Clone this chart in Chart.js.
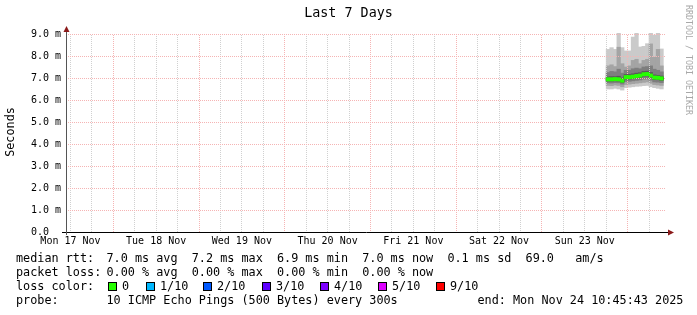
<!DOCTYPE html>
<html>
<head>
<meta charset="utf-8">
<script src="https://cdn.jsdelivr.net/npm/chart.js@4/dist/chart.umd.min.js"></script>
<style>
  html, body { margin: 0; padding: 0; background: #ffffff; }
  canvas { display: block; }
</style>
</head>
<body>
<canvas id="smokeChart" width="697" height="315"></canvas>
<script>
// hour offsets from the window start (Mon 17 Nov 10:45), one smoke column per hour
var hours = [151.75, 152.75, 153.75, 154.75, 155.75, 156.75, 157.75, 158.75, 159.75, 160.75, 161.75, 162.75, 163.75, 164.75, 165.75, 166.75];
// sorted ping rtts per hour (ms), ping1 = fastest, ping10 = slowest
var ping1  = [6.50, 6.50, 6.53, 6.50, 6.45, 6.56, 6.58, 6.60, 6.62, 6.63, 6.65, 6.66, 6.60, 6.56, 6.53, 6.50];
var ping2  = [6.66, 6.65, 6.68, 6.66, 6.60, 6.70, 6.72, 6.74, 6.76, 6.78, 6.80, 6.82, 6.76, 6.70, 6.68, 6.66];
var ping3  = [6.78, 6.77, 6.79, 6.78, 6.72, 6.84, 6.85, 6.87, 6.89, 6.91, 6.95, 6.96, 6.90, 6.82, 6.81, 6.79];
var ping4  = [6.86, 6.86, 6.87, 6.86, 6.80, 6.95, 6.95, 6.97, 7.00, 7.02, 7.08, 7.09, 7.02, 6.93, 6.92, 6.89];
var ping5  = [6.90, 6.90, 6.91, 6.90, 6.84, 7.00, 7.00, 7.02, 7.05, 7.07, 7.13, 7.14, 7.07, 6.98, 6.97, 6.94];
var ping6  = [6.98, 6.98, 6.99, 6.98, 6.92, 7.08, 7.08, 7.10, 7.13, 7.15, 7.21, 7.22, 7.15, 7.06, 7.05, 7.02];
var ping7  = [7.05, 7.06, 7.06, 7.08, 7.00, 7.16, 7.16, 7.19, 7.22, 7.24, 7.30, 7.31, 7.25, 7.14, 7.12, 7.09];
var ping8  = [7.25, 7.30, 7.28, 7.40, 7.22, 7.35, 7.35, 7.42, 7.45, 7.42, 7.50, 7.52, 7.55, 7.40, 7.35, 7.28];
var ping9  = [7.55, 7.60, 7.52, 8.40, 7.65, 7.50, 7.55, 7.80, 7.85, 7.65, 7.80, 7.85, 8.55, 7.95, 8.30, 7.55];
var ping10 = [8.30, 8.38, 8.30, 9.20, 8.38, 8.23, 8.23, 8.86, 9.20, 8.41, 8.44, 8.56, 9.20, 8.95, 9.20, 8.32];
var median = [6.94, 6.94, 6.95, 6.94, 6.88, 7.04, 7.04, 7.06, 7.09, 7.11, 7.17, 7.18, 7.11, 7.02, 7.01, 6.98];

var dayLabels = ['Mon 17 Nov', 'Tue 18 Nov', 'Wed 19 Nov', 'Thu 20 Nov', 'Fri 21 Nov', 'Sat 22 Nov', 'Sun 23 Nov'];
var lossLabels = ['0', '1/10', '2/10', '3/10', '4/10', '5/10', '9/10'];
var lossColors = ['#26ff00', '#00b8ff', '#0059ff', '#5e00ff', '#7e00ff', '#dd00ff', '#ff0000'];
var rttLine = '7.0 ms avg  7.2 ms max  6.9 ms min  7.0 ms now  0.1 ms sd  69.0   am/s';
var lossLine = '0.00 % avg  0.00 % max  0.00 % min  0.00 % now';
var probeLine = '10 ICMP Echo Pings (500 Bytes) every 300s';
var endLine = 'end: Mon Nov 24 10:45:43 2025';

var mono = '"DejaVu Sans Mono", monospace';
var smokeShades = ['#cacaca', '#a4a4a4', '#7e7e7e', '#585858', '#323232'];
var lows = [ping1, ping2, ping3, ping4, ping5];
var highs = [ping10, ping9, ping8, ping7, ping6];
var majorGrid = '#f5b4b4';
var minorGrid = '#d0d0d0';

function band(lo, hi) {
    return hours.map(function (h, i) { return { x: h, y: [lo[i], hi[i]] }; });
}

var datasets = [];
for (var b = 0; b < 5; b++) {
    datasets.push({
        data: band(lows[b], highs[b]),
        backgroundColor: smokeShades[b],
        order: 10 - b
    });
}
datasets.push({
    data: hours.map(function (h, i) { return { x: h, y: [median[i] - 0.075, median[i] + 0.075] }; }),
    backgroundColor: '#26ff00',
    order: 0
});
datasets.forEach(function (d) {
    d.barPercentage = 1;
    d.categoryPercentage = 1;
    d.borderWidth = 0;
    d.grouped = false;
});

function isStep(v, start, step) {
    var k = (v - start) / step;
    return Math.abs(k - Math.round(k)) < 1e-6;
}

// dotted rrdtool-style grid over the smoke, under the median band
var dottedGrid = {
    id: 'dottedGrid',
    afterDatasetDraw: function (chart, args) {
        if (args.index !== 4) return;
        var ctx = chart.ctx, a = chart.chartArea;
        var xs = chart.scales.x, ys = chart.scales.y;
        ctx.save();
        [false, true].forEach(function (major) {
            ctx.fillStyle = major ? majorGrid : minorGrid;
            ys.ticks.forEach(function (t) {
                if (t.value === 0 || isStep(t.value, 0, 1) !== major) return;
                var y = Math.round(ys.getPixelForValue(t.value));
                var x0 = a.left + 1 + ((a.left + 1 + y) % 2);
                for (var x = x0; x < a.right; x += 2) ctx.fillRect(x, y, 1, 1);
            });
            xs.ticks.forEach(function (t) {
                if (isStep(t.value, 13.25, 24) !== major) return;
                var x = Math.floor(xs.getPixelForValue(t.value) + 0.02);
                var y0 = a.bottom - 1 - ((a.bottom - 1 + x) % 2);
                for (var y = y0; y > a.top; y -= 2) ctx.fillRect(x, y, 1, 1);
            });
        });
        ctx.restore();
    }
};

var decorations = {
    id: 'decorations',
    afterDraw: function (chart) {
        var ctx = chart.ctx, a = chart.chartArea;
        ctx.save();
        // axes
        ctx.lineWidth = 1;
        ctx.strokeStyle = '#000000';
        ctx.beginPath();
        ctx.moveTo(a.left - 4, a.bottom + 0.5);
        ctx.lineTo(a.right + 5, a.bottom + 0.5);
        ctx.stroke();
        ctx.strokeStyle = '#555555';
        ctx.beginPath();
        ctx.moveTo(a.left + 0.5, a.bottom + 3);
        ctx.lineTo(a.left + 0.5, a.top - 4);
        ctx.stroke();
        // arrows
        ctx.fillStyle = '#8b1a1a';
        ctx.beginPath();
        ctx.moveTo(a.right + 8, a.bottom + 0.5);
        ctx.lineTo(a.right + 2, a.bottom - 2.5);
        ctx.lineTo(a.right + 2, a.bottom + 3.5);
        ctx.closePath();
        ctx.fill();
        ctx.beginPath();
        ctx.moveTo(a.left + 0.5, a.top - 7);
        ctx.lineTo(a.left - 2.5, a.top - 1);
        ctx.lineTo(a.left + 3.5, a.top - 1);
        ctx.closePath();
        ctx.fill();

        // title
        ctx.fillStyle = '#000000';
        ctx.textBaseline = 'middle';
        ctx.textAlign = 'center';
        ctx.font = '13.4px ' + mono;
        ctx.fillText('Last 7 Days', 348.5, 14);

        // y axis title
        ctx.save();
        ctx.translate(11, 132);
        ctx.rotate(-Math.PI / 2);
        ctx.font = '11.8px ' + mono;
        ctx.fillText('Seconds', 0, 0);
        ctx.restore();

        // watermark
        ctx.save();
        ctx.translate(688.5, 5);
        ctx.rotate(Math.PI / 2);
        ctx.textAlign = 'left';
        ctx.fillStyle = '#a8a8a8';
        ctx.font = '8.3px ' + mono;
        ctx.fillText('RRDTOOL / TOBI OETIKER', 0, 0);
        ctx.restore();

        // legend
        ctx.textAlign = 'left';
        ctx.fillStyle = '#000000';
        ctx.font = '11.8px ' + mono;
        ctx.fillText('median rtt:', 16, 259);
        ctx.fillText(rttLine, 106.5, 259);
        ctx.fillText('packet loss:', 16, 273);
        ctx.fillText(lossLine, 106.5, 273);
        ctx.fillText('loss color:', 16, 287);
        var boxX = [108, 146, 203, 262, 320, 378, 436];
        for (var i = 0; i < lossLabels.length; i++) {
            ctx.fillStyle = lossColors[i];
            ctx.fillRect(boxX[i], 282, 9, 9);
            ctx.strokeStyle = '#000000';
            ctx.strokeRect(boxX[i] + 0.5, 282.5, 8, 8);
            ctx.fillStyle = '#000000';
            ctx.fillText(lossLabels[i], boxX[i] + 14, 287);
        }
        ctx.fillText('probe:', 16, 301);
        ctx.fillText(probeLine, 106.5, 301);
        ctx.fillText(endLine, 477.5, 301);
        ctx.restore();
    }
};

var ctx = document.getElementById('smokeChart').getContext('2d');
new Chart(ctx, {
    type: 'bar',
    data: { datasets: datasets },
    options: {
        responsive: false,
        animation: false,
        layout: { padding: { left: 0, right: 31, top: 33, bottom: 0 } },
        plugins: {
            legend: { display: false },
            tooltip: { enabled: false },
            title: { display: false }
        },
        scales: {
            x: {
                type: 'linear',
                min: 0,
                max: 168,
                offset: false,
                grid: { display: false, offset: false, drawTicks: false },
                border: { display: false },
                afterBuildTicks: function (scale) {
                    var t = [];
                    for (var h = 1.25; h < 168; h += 6) t.push({ value: h });
                    scale.ticks = t;
                },
                afterFit: function (scale) { scale.height = 83; },
                ticks: {
                    autoSkip: false,
                    maxRotation: 0,
                    padding: 3,
                    color: '#000000',
                    font: { family: mono, size: 10 },
                    callback: function (v) {
                        return isStep(v, 1.25, 24) ? dayLabels[Math.round((v - 1.25) / 24)] : '';
                    }
                }
            },
            y: {
                min: 0,
                max: 9.045,
                grid: { display: false, drawTicks: false },
                border: { display: false },
                afterBuildTicks: function (scale) {
                    var t = [];
                    for (var v = 0; v <= 9; v += 0.5) t.push({ value: v });
                    scale.ticks = t;
                },
                afterFit: function (scale) { scale.width = 66; },
                ticks: {
                    padding: 5,
                    color: '#000000',
                    font: { family: mono, size: 10 },
                    callback: function (v) {
                        if (!isStep(v, 0, 1)) return '';
                        return v === 0 ? '0.0  ' : v.toFixed(1) + ' m';
                    }
                }
            }
        }
    },
    plugins: [dottedGrid, decorations]
});
</script>
</body>
</html>
